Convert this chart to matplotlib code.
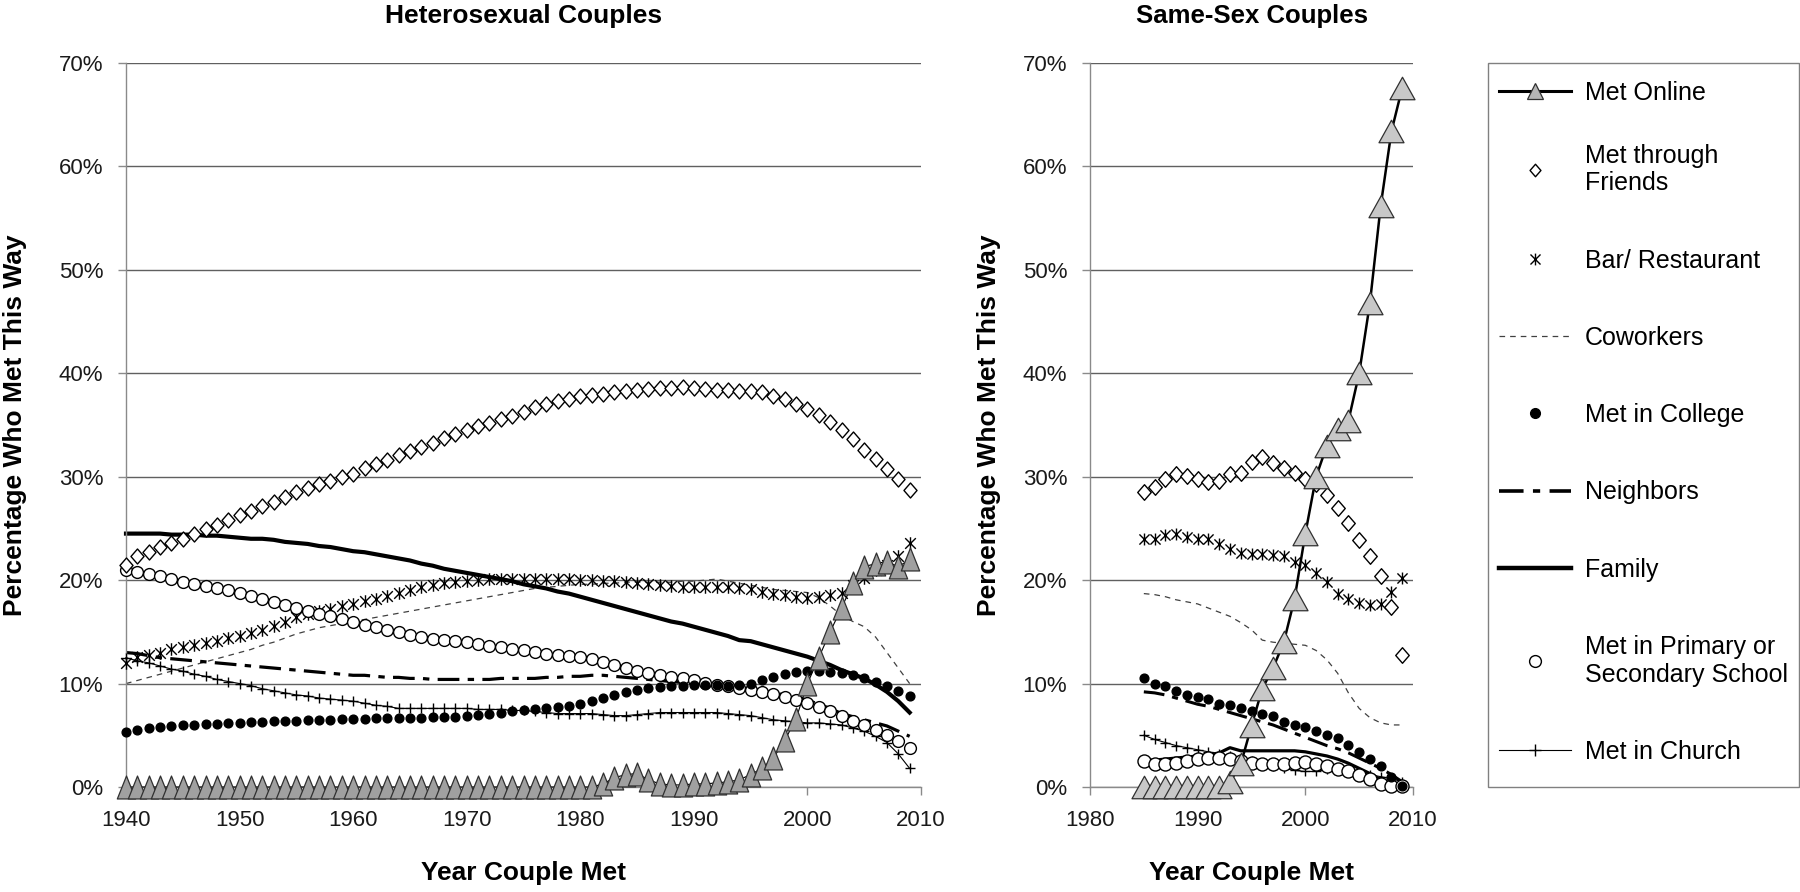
import numpy as np
import matplotlib
matplotlib.use('Agg')
import matplotlib.pyplot as plt
from matplotlib.path import Path
from matplotlib.lines import Line2D
from matplotlib.patches import Rectangle
from matplotlib.ticker import PercentFormatter, MultipleLocator

plt.rcParams['font.family'] = ['Liberation Sans', 'DejaVu Sans']

# ---- data: heterosexual couples, 1940-2009 (percent) ----
years_het = np.arange(1940, 2010)
online_het = [0] * 42 + [
    0.3, 0.9, 1.2, 1.3, 0.7, 0.3, 0.2, 0.2, 0.3, 0.3, 0.4, 0.5, 0.7, 1.2,
    1.8, 2.8, 4.5, 6.6, 10.0, 12.5, 15.0, 17.3, 19.7, 21.3, 21.6, 21.8, 21.3, 22.0]
friends_het = [
    21.5, 22.3, 22.7, 23.2, 23.6, 24.0, 24.5, 24.9, 25.3, 25.8,
    26.3, 26.7, 27.2, 27.6, 28.0, 28.5, 28.9, 29.3, 29.6, 30.0,
    30.3, 30.8, 31.2, 31.6, 32.1, 32.5, 32.9, 33.3, 33.7, 34.1,
    34.5, 34.9, 35.2, 35.6, 35.9, 36.3, 36.7, 37.0, 37.3, 37.5,
    37.8, 37.9, 38.0, 38.2, 38.3, 38.4, 38.5, 38.6, 38.6, 38.7,
    38.6, 38.5, 38.4, 38.4, 38.3, 38.3, 38.2, 37.8, 37.5, 37.0,
    36.5, 36.0, 35.3, 34.5, 33.6, 32.6, 31.7, 30.7, 29.8, 28.7]
bar_het = [
    12.0, 12.6, 12.8, 13.0, 13.3, 13.5, 13.7, 13.9, 14.1, 14.4,
    14.6, 14.9, 15.2, 15.6, 16.0, 16.4, 16.7, 17.0, 17.2, 17.5,
    17.7, 18.0, 18.2, 18.5, 18.8, 19.0, 19.3, 19.5, 19.7, 19.8,
    19.9, 20.0, 20.1, 20.1, 20.1, 20.1, 20.1, 20.1, 20.1, 20.1,
    20.0, 20.0, 19.9, 19.9, 19.8, 19.7, 19.6, 19.5, 19.4, 19.3,
    19.3, 19.3, 19.3, 19.3, 19.2, 19.1, 18.9, 18.7, 18.6, 18.4,
    18.3, 18.4, 18.6, 18.8, 19.5, 20.2, 21.0, 21.5, 22.3, 23.6]
coworkers_het = [
    10.0, 10.3, 10.6, 10.9, 11.2, 11.5, 11.8, 12.1, 12.4, 12.7,
    13.0, 13.3, 13.7, 14.0, 14.4, 14.8, 15.1, 15.4, 15.6, 15.8,
    16.0, 16.2, 16.4, 16.6, 16.8, 17.0, 17.2, 17.4, 17.6, 17.8,
    18.0, 18.2, 18.4, 18.6, 18.8, 19.0, 19.2, 19.3, 19.4, 19.5,
    19.6, 19.6, 19.7, 19.7, 19.8, 19.8, 19.8, 19.8, 19.8, 19.9,
    19.9, 20.0, 20.1, 19.9, 19.7, 19.5, 19.3, 19.1, 19.0, 18.9,
    18.8, 18.3, 17.5, 16.6, 16.0, 15.5, 14.5, 13.0, 11.5, 10.0]
college_het = [
    5.3, 5.5, 5.7, 5.8, 5.9, 6.0, 6.0, 6.1, 6.1, 6.2,
    6.2, 6.3, 6.3, 6.4, 6.4, 6.4, 6.5, 6.5, 6.5, 6.6,
    6.6, 6.6, 6.7, 6.7, 6.7, 6.7, 6.7, 6.8, 6.8, 6.8,
    6.9, 7.0, 7.1, 7.2, 7.3, 7.4, 7.5, 7.6, 7.7, 7.8,
    8.0, 8.3, 8.6, 8.9, 9.2, 9.4, 9.6, 9.7, 9.8, 9.8,
    9.9, 9.9, 9.9, 9.8, 9.9, 10.0, 10.3, 10.6, 10.9, 11.1,
    11.2, 11.2, 11.1, 11.0, 10.8, 10.5, 10.2, 9.8, 9.3, 8.8]
neighbors_het = [
    13.0, 12.9, 12.7, 12.5, 12.4, 12.3, 12.2, 12.1, 12.0, 11.9,
    11.8, 11.7, 11.6, 11.5, 11.4, 11.3, 11.2, 11.1, 11.0, 10.9,
    10.8, 10.8, 10.7, 10.6, 10.6, 10.5, 10.5, 10.4, 10.4, 10.4,
    10.4, 10.4, 10.4, 10.5, 10.5, 10.5, 10.5, 10.6, 10.6, 10.7,
    10.7, 10.8, 10.8, 10.7, 10.6, 10.5, 10.4, 10.3, 10.2, 10.1,
    10.0, 9.9, 9.8, 9.7, 9.6, 9.5, 9.3, 9.1, 8.9, 8.7,
    8.4, 8.0, 7.6, 7.1, 6.8, 6.5, 6.2, 5.9, 5.4, 4.9]
family_het = [
    24.5, 24.5, 24.5, 24.5, 24.4, 24.4, 24.4, 24.3, 24.3, 24.2,
    24.1, 24.0, 24.0, 23.9, 23.7, 23.6, 23.5, 23.3, 23.2, 23.0,
    22.8, 22.7, 22.5, 22.3, 22.1, 21.9, 21.6, 21.4, 21.1, 20.9,
    20.7, 20.5, 20.3, 20.1, 19.9, 19.6, 19.4, 19.2, 18.9, 18.7,
    18.4, 18.1, 17.8, 17.5, 17.2, 16.9, 16.6, 16.3, 16.0, 15.8,
    15.5, 15.2, 14.9, 14.6, 14.2, 14.1, 13.8, 13.5, 13.2, 12.9,
    12.6, 12.2, 11.8, 11.3, 10.9, 10.5, 9.9, 9.2, 8.3, 7.2]
primary_het = [
    21.0, 20.8, 20.6, 20.4, 20.1, 19.8, 19.6, 19.4, 19.2, 19.0,
    18.8, 18.5, 18.2, 17.9, 17.6, 17.3, 17.0, 16.7, 16.5, 16.2,
    16.0, 15.7, 15.5, 15.2, 15.0, 14.7, 14.5, 14.3, 14.2, 14.1,
    14.0, 13.8, 13.6, 13.5, 13.3, 13.2, 13.1, 12.9, 12.8, 12.7,
    12.6, 12.4, 12.1, 11.8, 11.5, 11.2, 11.0, 10.8, 10.6, 10.5,
    10.3, 10.1, 9.9, 9.8, 9.6, 9.4, 9.2, 9.0, 8.7, 8.4,
    8.1, 7.7, 7.3, 6.9, 6.4, 6.0, 5.5, 5.0, 4.4, 3.8]
church_het = [
    12.5, 12.2, 12.0, 11.7, 11.4, 11.2, 10.9, 10.7, 10.4, 10.2,
    10.0, 9.8, 9.5, 9.3, 9.1, 8.9, 8.8, 8.6, 8.5, 8.4,
    8.3, 8.1, 7.9, 7.8, 7.6, 7.6, 7.6, 7.6, 7.6, 7.6,
    7.6, 7.5, 7.5, 7.5, 7.4, 7.4, 7.3, 7.2, 7.1, 7.1,
    7.1, 7.1, 7.0, 6.9, 6.9, 7.0, 7.1, 7.2, 7.2, 7.2,
    7.2, 7.2, 7.2, 7.1, 7.0, 6.9, 6.7, 6.5, 6.4, 6.3,
    6.2, 6.2, 6.1, 6.0, 5.7, 5.4, 4.9, 4.3, 3.2, 1.8]

# ---- data: same-sex couples, 1985-2009 (percent) ----
years_ss = np.arange(1985, 2010)
online_ss = [0, 0, 0, 0, 0, 0, 0, 0, 0.5, 2.2, 5.9, 9.5, 11.5, 14.0, 18.2,
             24.5, 30.0, 33.0, 34.6, 35.4, 40.0, 46.8, 56.2, 63.4, 67.6]
friends_ss = [28.5, 29.0, 29.8, 30.3, 30.1, 29.8, 29.5, 29.6, 30.3, 30.4, 31.4, 31.9, 31.3,
              30.8, 30.4, 29.8, 29.3, 28.2, 27.0, 25.5, 23.9, 22.3, 20.4, 17.4, 12.8]
bar_ss = [24.0, 24.0, 24.4, 24.5, 24.2, 24.0, 24.0, 23.5, 23.0, 22.6, 22.5, 22.5, 22.4,
          22.3, 21.8, 21.5, 20.7, 19.8, 18.7, 18.2, 17.8, 17.6, 17.7, 18.9, 20.2]
coworkers_ss = [18.7, 18.6, 18.4, 18.1, 17.9, 17.7, 17.3, 16.9, 16.5, 15.9, 15.2, 14.2, 14.0,
                13.9, 13.8, 13.7, 13.2, 12.3, 11.0, 9.1, 7.6, 6.7, 6.2, 6.0, 6.0]
college_ss = [10.5, 10.0, 9.8, 9.3, 8.9, 8.7, 8.5, 8.0, 7.9, 7.6, 7.3, 7.1, 6.9,
              6.3, 6.0, 5.8, 5.4, 5.0, 4.7, 4.1, 3.4, 2.7, 2.0, 1.0, 0.1]
neighbors_ss = [9.2, 9.1, 8.9, 8.6, 8.3, 8.0, 7.8, 7.5, 7.2, 6.9, 6.6, 6.3, 6.0,
                5.6, 5.2, 4.8, 4.4, 4.0, 3.7, 3.3, 2.8, 2.3, 1.8, 1.2, 0.5]
family_ss = [2.6, 2.6, 2.7, 2.8, 2.9, 3.0, 3.1, 3.3, 3.8, 3.5, 3.5, 3.5, 3.5,
             3.5, 3.5, 3.4, 3.2, 3.0, 2.7, 2.3, 1.8, 1.3, 0.7, 0.2, 0.0]
primary_ss = [2.5, 2.2, 2.2, 2.3, 2.5, 2.7, 2.8, 2.8, 2.7, 2.5, 2.3, 2.2, 2.2,
              2.2, 2.3, 2.4, 2.2, 2.0, 1.7, 1.5, 1.2, 0.8, 0.3, 0.1, 0.1]
church_ss = [5.0, 4.6, 4.3, 4.0, 3.8, 3.6, 3.4, 3.2, 3.0, 2.7, 2.5, 2.3, 2.0,
             1.8, 1.6, 1.5, 1.5, 1.7, 1.7, 1.6, 1.4, 1.2, 1.0, 0.8, 0.5]

labels = ['Met Online', 'Met through\nFriends', 'Bar/ Restaurant', 'Coworkers',
          'Met in College', 'Neighbors', 'Family',
          'Met in Primary or\nSecondary School', 'Met in Church']

# ---- custom markers ----
M, L, C = Path.MOVETO, Path.LINETO, Path.CLOSEPOLY
tall_tri = Path([(0, 1), (-0.8, -1), (0.8, -1), (0, 1)], [M, L, L, C])
wide_tri = Path([(0, 0.9), (-1, -0.9), (1, -0.9), (0, 0.9)], [M, L, L, C])
diamond = Path([(0, 1), (0.87, 0), (0, -1), (-0.87, 0), (0, 1)], [M, L, L, L, C])
star = Path([(-0.85, -0.85), (0.85, 0.85), (-0.85, 0.85), (0.85, -0.85), (0, -1), (0, 1)],
            [M, L, M, L, M, L])
nb_dash = (6.8, 2.6, 2.0, 2.6)
cw_dash = (4.5, 4.0)
GRID = '#606060'
AXC = '#8a8a8a'

# marker sizes (points) for the two panels
SZ = {
    True: dict(tri=16.5, dia=10.8, star=9.0, circ=8.5, dot=6.3, plus=7.4, fam=3.0, nb=2.3, on=0.8),
    False: dict(tri=18.0, dia=11.2, star=8.6, circ=9.4, dot=6.3, plus=7.8, fam=2.3, nb=2.2, on=1.8),
}


def draw_panel(ax, yrs, d, big):
    z = SZ[big]
    f = lambda v: np.array(v) / 100.0
    kw = dict(clip_on=False)
    ax.plot(yrs, f(d['cow']), color='#404040', lw=0.9, dashes=cw_dash, zorder=2, **kw)
    ax.plot(yrs, f(d['nb']), color='black', lw=z['nb'], dashes=nb_dash, zorder=2, **kw)
    ax.plot(yrs, f(d['fam']), color='black', lw=z['fam'], zorder=2, **kw)
    ax.plot(yrs, f(d['ch']), color='black', lw=0.8, marker='+', ms=z['plus'], mew=1.0,
            zorder=3, **kw)
    ax.plot(yrs, f(d['bar']), ls='none', marker=star, ms=z['star'], mfc='none', mec='black',
            mew=1.0, zorder=3, **kw)
    ax.plot(yrs, f(d['prim']), ls='none', marker='o', ms=z['circ'], mfc='white', mec='black',
            mew=1.0, zorder=3, **kw)
    ax.plot(yrs, f(d['col']), ls='none', marker='o', ms=z['dot'], mfc='black', mec='black',
            zorder=3, **kw)
    ax.plot(yrs, f(d['fr']), ls='none', marker=diamond, ms=z['dia'], mfc='white', mec='black',
            mew=1.0, zorder=4, **kw)
    ax.plot(yrs, f(d['on']), color='black', lw=z['on'], marker=tall_tri if big else wide_tri,
            ms=z['tri'], mfc='#a0a0a0' if big else '#c8c8c8', mec='#303030', mew=0.9,
            zorder=5, **kw)

    ax.set_ylim(0, 0.7)
    ax.yaxis.set_major_locator(MultipleLocator(0.1))
    ax.yaxis.set_major_formatter(PercentFormatter(1.0, decimals=0))
    ax.xaxis.set_major_locator(MultipleLocator(10))
    ax.grid(axis='y', color=GRID, lw=1.0)
    ax.set_axisbelow(True)
    for sp in ['top', 'right']:
        ax.spines[sp].set_visible(False)
    for sp in ['left', 'bottom']:
        ax.spines[sp].set_color(AXC)
        ax.spines[sp].set_linewidth(1.0)
    ax.tick_params(direction='out', length=5.8, width=1.0, color=AXC,
                   labelsize=16, pad=10.5, labelcolor='#1a1a1a')
    ax.set_xlabel('Year Couple Met', fontsize=19, fontweight='bold', va='center')
    ax.set_ylabel('Percentage Who Met This Way', fontsize=19, fontweight='bold', va='center')


fig = plt.figure(figsize=(18, 8.92), dpi=100)
W, H = 1800.0, 892.0
ax1 = fig.add_axes([126 / W, 105 / H, 795 / W, 724 / H])
ax2 = fig.add_axes([1090 / W, 105 / H, 323 / W, 724 / H])

draw_panel(ax1, years_het, dict(on=online_het, fr=friends_het, bar=bar_het, cow=coworkers_het,
                                 col=college_het, nb=neighbors_het, fam=family_het,
                                 prim=primary_het, ch=church_het), True)
draw_panel(ax2, years_ss, dict(on=online_ss, fr=friends_ss, bar=bar_ss, cow=coworkers_ss,
                               col=college_ss, nb=neighbors_ss, fam=family_ss,
                               prim=primary_ss, ch=church_ss), False)
ax1.set_xlim(1940, 2010)
ax2.set_xlim(1980, 2010)

ax1.xaxis.set_label_coords(0.5, -0.119)
ax2.xaxis.set_label_coords(0.5, -0.119)
ax1.yaxis.set_label_coords(-0.1396, 0.5)
ax2.yaxis.set_label_coords(-0.3127, 0.5)

ax1.text(0.5, 1.0656, 'Heterosexual Couples', transform=ax1.transAxes, ha='center',
         va='center', fontsize=19, fontweight='bold')
ax2.text(0.5, 1.0656, 'Same-Sex Couples', transform=ax2.transAxes, ha='center',
         va='center', fontsize=18.5, fontweight='bold')

# ---- legend (frame drawn separately so its box is fixed) ----
handles = [
    Line2D([], [], color='black', lw=2.2, marker='^', ms=11, mfc='#b4b4b4', mec='#303030', mew=0.9),
    Line2D([], [], ls='none', marker=diamond, ms=9, mfc='white', mec='black', mew=1.0),
    Line2D([], [], ls='none', marker=star, ms=8.5, mfc='none', mec='black', mew=1.0),
    Line2D([], [], color='#404040', lw=0.9, dashes=cw_dash),
    Line2D([], [], ls='none', marker='o', ms=7, mfc='black', mec='black'),
    Line2D([], [], color='black', lw=2.6, dashes=nb_dash),
    Line2D([], [], color='black', lw=3.2),
    Line2D([], [], ls='none', marker='o', ms=8.5, mfc='white', mec='black', mew=1.0),
    Line2D([], [], color='black', lw=0.8, marker='+', ms=8.5, mew=1.0),
]
leg_kw = dict(loc='upper left', bbox_transform=fig.transFigure, fontsize=18, frameon=False,
              borderpad=0.42, handlelength=2.9, handletextpad=0.56, borderaxespad=0)
fig.legend(handles[:1], labels[:1], bbox_to_anchor=(1488 / W, 1 - 70 / H),
           labelspacing=2.05, **leg_kw)
fig.legend(handles[1:], labels[1:], bbox_to_anchor=(1488 / W, 1 - 133 / H),
           labelspacing=2.13, **leg_kw)
fig.add_artist(Rectangle((1488 / W, 105 / H), 311 / W, 724 / H, transform=fig.transFigure,
                         fill=False, edgecolor='#808080', lw=1.0))

fig.savefig('out.png', dpi=100)
